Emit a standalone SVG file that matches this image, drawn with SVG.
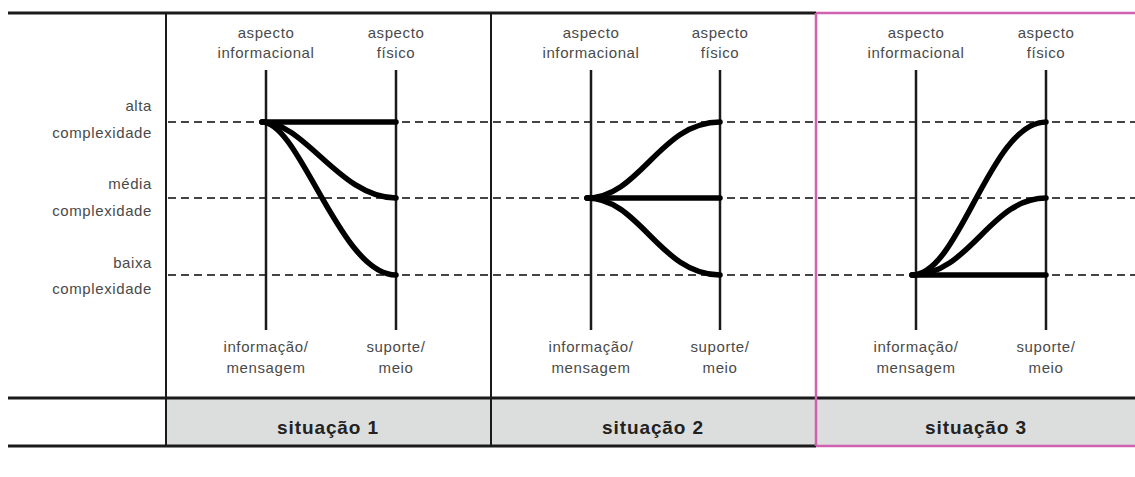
<svg xmlns="http://www.w3.org/2000/svg" width="1135" height="477" viewBox="0 0 1135 477">
<style>
.lbl{font-family:"Liberation Sans",Arial,sans-serif;font-size:15px;fill:#4a4a4a;letter-spacing:0.6px}
.lblr{text-anchor:end}
.lblc{text-anchor:middle}
.sit{font-family:"Liberation Sans",Arial,sans-serif;font-size:19px;font-weight:bold;fill:#222;text-anchor:middle;letter-spacing:0.9px}
.rule{stroke:#1a1a1a;stroke-width:3;fill:none}
.div{stroke:#1a1a1a;stroke-width:2;fill:none}
.dash{stroke:#444;stroke-width:2;stroke-dasharray:8,5;fill:none}
.axis{stroke:#1a1a1a;stroke-width:2.5;fill:none}
.flow{stroke:#000;stroke-width:5.5;fill:none;stroke-linecap:round}
.pink{stroke:#d060b0;stroke-width:2.5;fill:none}
</style>
<rect width="1135" height="477" fill="#fff"/>
<rect x="166" y="399" width="969" height="47" fill="#dcdddd"/>
<g id="levels">
<line class="dash" x1="168" y1="122" x2="1135" y2="122"/>
<line class="dash" x1="168" y1="198" x2="1135" y2="198"/>
<line class="dash" x1="168" y1="275" x2="1135" y2="275"/>
</g>
<g id="table">
<line class="rule" x1="8" y1="13" x2="816" y2="13"/>
<line class="rule" x1="8" y1="398" x2="1135" y2="398"/>
<line class="rule" x1="8" y1="446" x2="816" y2="446"/>
<line class="div" x1="166" y1="13" x2="166" y2="446"/>
<line class="div" x1="491" y1="13" x2="491" y2="446"/>
<line class="pink" x1="816" y1="13" x2="1135" y2="13"/>
<line class="pink" x1="816" y1="446" x2="1135" y2="446"/>
<line class="pink" x1="816" y1="13" x2="816" y2="446"/>
</g>
<g id="row-labels">
<text class="lbl lblr" x="152" y="111">alta</text>
<text class="lbl lblr" x="152" y="138">complexidade</text>
<text class="lbl lblr" x="152" y="189">média</text>
<text class="lbl lblr" x="152" y="216">complexidade</text>
<text class="lbl lblr" x="152" y="268">baixa</text>
<text class="lbl lblr" x="152" y="294">complexidade</text>
</g>
<g id="situacao1">
<line class="axis" x1="266" y1="70" x2="266" y2="330"/>
<line class="axis" x1="396" y1="70" x2="396" y2="330"/>
<text class="lbl lblc" x="266" y="38">aspecto</text>
<text class="lbl lblc" x="266" y="58">informacional</text>
<text class="lbl lblc" x="396" y="38">aspecto</text>
<text class="lbl lblc" x="396" y="58">físico</text>
<text class="lbl lblc" x="266" y="352">informação/</text>
<text class="lbl lblc" x="266" y="373">mensagem</text>
<text class="lbl lblc" x="396" y="352">suporte/</text>
<text class="lbl lblc" x="396" y="373">meio</text>
<text class="sit" x="328" y="434">situação 1</text>
</g>
<g id="situacao2">
<line class="axis" x1="591" y1="70" x2="591" y2="330"/>
<line class="axis" x1="720" y1="70" x2="720" y2="330"/>
<text class="lbl lblc" x="591" y="38">aspecto</text>
<text class="lbl lblc" x="591" y="58">informacional</text>
<text class="lbl lblc" x="720" y="38">aspecto</text>
<text class="lbl lblc" x="720" y="58">físico</text>
<text class="lbl lblc" x="591" y="352">informação/</text>
<text class="lbl lblc" x="591" y="373">mensagem</text>
<text class="lbl lblc" x="720" y="352">suporte/</text>
<text class="lbl lblc" x="720" y="373">meio</text>
<text class="sit" x="653" y="434">situação 2</text>
</g>
<g id="situacao3">
<line class="axis" x1="916" y1="70" x2="916" y2="330"/>
<line class="axis" x1="1046" y1="70" x2="1046" y2="330"/>
<text class="lbl lblc" x="916" y="38">aspecto</text>
<text class="lbl lblc" x="916" y="58">informacional</text>
<text class="lbl lblc" x="1046" y="38">aspecto</text>
<text class="lbl lblc" x="1046" y="58">físico</text>
<text class="lbl lblc" x="916" y="352">informação/</text>
<text class="lbl lblc" x="916" y="373">mensagem</text>
<text class="lbl lblc" x="1046" y="352">suporte/</text>
<text class="lbl lblc" x="1046" y="373">meio</text>
<text class="sit" x="976" y="434">situação 3</text>
</g>
<g id="connectors">
<path class="flow" d="M262,122 L396,122"/>
<path class="flow" d="M262,122 C305,122 340,198 396,198"/>
<path class="flow" d="M262,122 C300,122 340,275 396,275"/>
<path class="flow" d="M587,198 L720,198"/>
<path class="flow" d="M587,198 C640,198 660,122 720,122"/>
<path class="flow" d="M587,198 C640,198 660,275 720,275"/>
<path class="flow" d="M912,275 L1046,275"/>
<path class="flow" d="M912,275 C970,275 990,198 1046,198"/>
<path class="flow" d="M912,275 C960,275 990,122 1046,122"/>
</g>
</svg>
